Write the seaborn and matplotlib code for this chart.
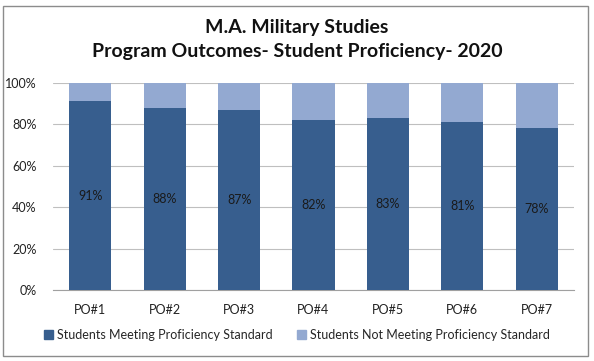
import matplotlib
matplotlib.use("Agg")
import matplotlib.pyplot as plt
import seaborn as sns
import pandas as pd
from matplotlib.patches import Rectangle, Patch

categories = ["PO#1", "PO#2", "PO#3", "PO#4", "PO#5", "PO#6", "PO#7"]
meeting = [91, 88, 87, 82, 83, 81, 78]
not_meeting = [9, 12, 13, 18, 17, 19, 22]
series_names = ["Students Meeting Proficiency Standard", "Students Not Meeting Proficiency Standard"]
title_lines = ["M.A. Military Studies", "Program Outcomes- Student Proficiency- 2020"]

dark = "#375E8E"
light = "#93A9D1"

sns.set_style("white")
plt.rcParams["font.family"] = ["Lato", "DejaVu Sans"]

df = pd.DataFrame({"cat": categories, "meet": meeting, "notmeet": not_meeting})
df["total"] = df["meet"] + df["notmeet"]

fig = plt.figure(figsize=(5.94, 3.61), dpi=100)
ax = fig.add_axes([53/594, 1-290/361, (574-53)/594, (290-82.7)/361])

sns.barplot(data=df, x="cat", y="total", color=light, width=0.565, ax=ax, saturation=1, zorder=2, linewidth=0)
sns.barplot(data=df, x="cat", y="meet", color=dark, width=0.565, ax=ax, saturation=1, zorder=3, linewidth=0)

for i, v in enumerate(meeting):
    ax.text(i, v/2, f"{v}%", ha="center", va="center", fontsize=9, color="#1a1a1a", zorder=4)

ax.set_ylim(0, 100)
ax.set_xlim(-0.5, len(categories)-0.5)
ax.set_yticks(range(0, 101, 20))
ax.set_yticklabels([f"{t}%" for t in range(0, 101, 20)], fontsize=9, color="#222222")
ax.tick_params(axis="x", labelsize=9, colors="#222222", pad=10, length=0)
ax.tick_params(axis="y", length=0, pad=12)
ax.set_xlabel("")
ax.set_ylabel("")
ax.yaxis.grid(True, color="#BFBFBF", linewidth=0.8, zorder=0)
ax.set_axisbelow(True)
for s in ["top", "right", "left"]:
    ax.spines[s].set_visible(False)
ax.spines["bottom"].set_color("#A0A0A0")
ax.spines["bottom"].set_linewidth(0.8)

fig.text(0.5, 1-28/361, title_lines[0], ha="center", va="center", fontsize=14, fontweight="bold", color="#111111")
fig.text(0.5, 1-52/361, title_lines[1], ha="center", va="center", fontsize=14, fontweight="bold", color="#111111")

handles = [Patch(color=dark), Patch(color=light)]
fig.legend(handles, series_names, loc="center", bbox_to_anchor=(0.5, 1-335/361), ncol=2, frameon=False,
           fontsize=9, handlelength=0.7, handleheight=0.7, handletextpad=0.3, columnspacing=2.0)

fig.patches.append(Rectangle((3/594, 1-356/361), (588-3)/594, (356-6)/361, transform=fig.transFigure,
                             fill=False, edgecolor="#8C8C8C", linewidth=1.0))

fig.savefig("out.png", dpi=100)
